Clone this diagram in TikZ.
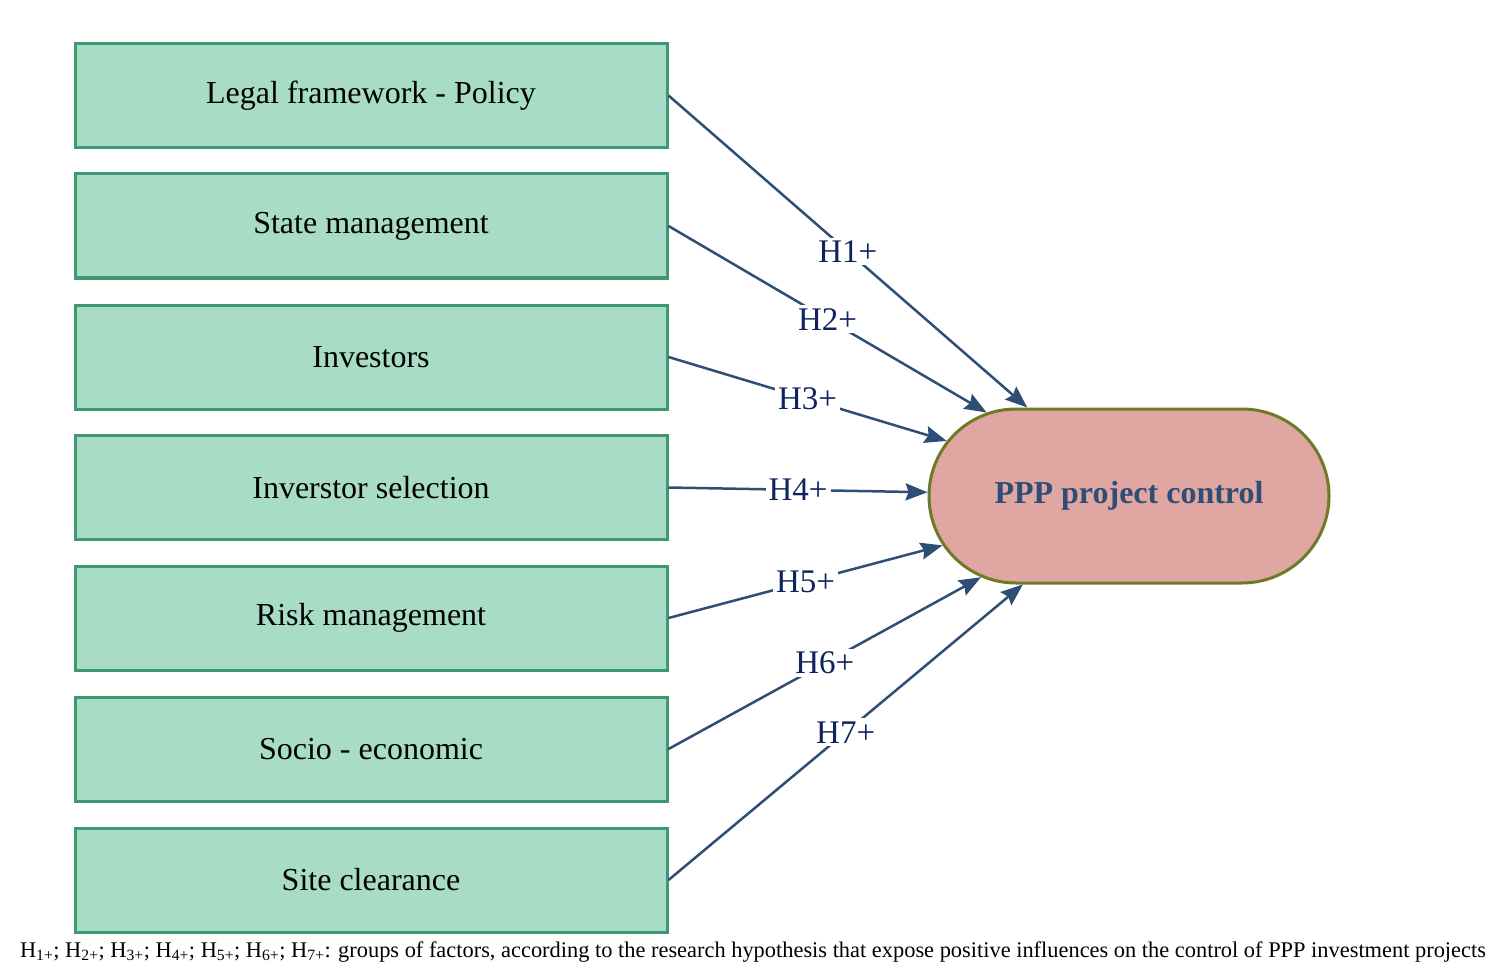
\documentclass[tikz,border=0pt]{standalone}
\usepackage{fontspec}
\setmainfont{Liberation Serif}
\usetikzlibrary{shapes.misc,arrows.meta}
\definecolor{boxfill}{RGB}{168,220,198}
\definecolor{boxline}{RGB}{62,152,112}
\definecolor{arrcol}{RGB}{46,78,117}
\definecolor{pppfill}{RGB}{224,166,162}
\definecolor{pppline}{RGB}{110,122,38}
\definecolor{labcol}{RGB}{15,35,95}
\tikzset{
  factor/.style={draw=boxline, line width=3pt, fill=boxfill, minimum width=592pt, minimum height=104pt, inner sep=0pt, font=\fontsize{32}{38}\selectfont, text=black},
  target/.style={rounded rectangle, draw=pppline, line width=3pt, fill=pppfill, minimum width=400pt, minimum height=174pt, inner sep=0pt, font=\fontsize{32}{38}\selectfont\bfseries, text=arrcol},
  hyp/.style={draw=arrcol, line width=2.5pt, -{Stealth[length=22pt,width=17pt,inset=3pt]}},
  hlab/.style={fill=white, inner sep=3pt, font=\fontsize{33}{38}\selectfont, text=labcol, pos=0.5}
}
\begin{document}
\begin{tikzpicture}[x=1pt,y=-1pt]
\useasboundingbox (0,0) rectangle (1501,968);
\node[factor] (b1) at (371,95.5) {Legal framework - Policy};
\node[factor] (b2) at (371,226) {State management};
\node[factor] (b3) at (371,357) {Investors};
\node[factor] (b4) at (371,487.5) {Inverstor selection};
\node[factor] (b5) at (371,618) {Risk management};
\node[factor] (b6) at (371,749) {Socio - economic};
\node[factor] (b7) at (371,880) {Site clearance};
\node[target] (ppp) at (1129,496) {PPP project control};
\draw[hyp] (b1.east) -- node[hlab] {H1+} (ppp);
\draw[hyp] (b2.east) -- node[hlab] {H2+} (ppp);
\draw[hyp] (b3.east) -- node[hlab] {H3+} (ppp);
\draw[hyp] (b4.east) -- node[hlab] {H4+} (ppp);
\draw[hyp] (b5.east) -- node[hlab] {H5+} (ppp);
\draw[hyp] (b6.east) -- node[hlab] {H6+} (ppp);
\draw[hyp] (b7.east) -- node[hlab] {H7+} (ppp);
\node[font=\fontsize{22.4}{26}\selectfont, inner sep=0pt, anchor=center] (cap) at (753,952) {H\textsubscript{1+}; H\textsubscript{2+}; H\textsubscript{3+}; H\textsubscript{4+}; H\textsubscript{5+}; H\textsubscript{6+}; H\textsubscript{7+}: groups of factors, according to the research hypothesis that expose positive influences on the control of PPP investment projects};
\end{tikzpicture}
\end{document}
